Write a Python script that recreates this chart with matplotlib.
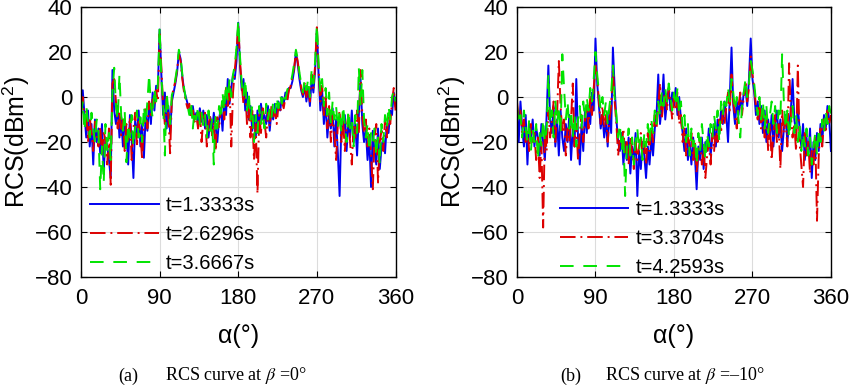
import numpy as np
import matplotlib.pyplot as plt

# sampled aspect angle (deg), 2 degree step
alpha = np.arange(0, 361, 2)

labels_a = ['t=1.3333s', 't=2.6296s', 't=3.6667s']
labels_b = ['t=1.3333s', 't=3.3704s', 't=4.2593s']

# (a) beta = 0 deg (dBm^2)
rcs_a_1 = [-2, 3, -8, -18, -6, -22, -12, -30, -10, -20,
           -14, -25, -12, -33, -18, -22, -28, -36, 12, -6,
           -12, -4, -18, -9, -22, -11, -16, -30, -8, -19,
           -36, -10, -18, -6, -22, -12, -27, -8, -15, -3,
           -12, 2, -6, 5, 4, 30, 10, -8, 2, -14,
           -4, -16, -2, 2, 6, 11, 20, 17, 9, 3,
           0, -3, -5, -8, -4, -10, -7, -12, -5, -11,
           -6, -14, -8, -18, -9, -16, -7, -13, -20, -10,
           -5, -15, 0, -8, 8, -3, 4, 10, 8, 16,
           33, 14, 3, 8, -6, 2, -10, -4, -15, -8,
           -18, -6, -14, -3, -10, -8, -12, -4, -15, -6,
           -10, -3, -8, -2, -6, 0, -3, 2, -1, 4,
           4, 7, 12, 20, 15, 8, 3, 0, 5, -2,
           4, -4, 8, 2, 12, 30, 10, -6, 3, -12,
           -2, -18, -8, -14, -5, -22, -10, -25, -44, -12,
           -16, -8, -24, -10, -18, -6, -20, -12, -26, -8,
           8, -12, -20, -14, -28, -18, -40, -15, -24, -30,
           -14, -32, -22, -18, -25, -12, -16, -6, -8, 2,
           -4]
rcs_a_2 = [-4, 0, -12, -6, -20, -9, -16, -24, -11, -18,
           -22, -13, -26, -15, -20, -30, -14, -39, 6, 8,
           -2, -14, -6, -17, -10, -24, -12, -19, -9, -28,
           -14, -7, -21, -11, -16, -28, -10, -5, -14, -2,
           -8, -1, -4, 3, -2, 28, 13, -4, -12, 0,
           -8, -25, 0, 4, 7, 12, 19, 16, 8, 2,
           -2, -5, -3, -9, -6, -11, -8, -14, -6, -20,
           -10, -7, -22, -12, -8, -17, -11, -24, -9, -14,
           -6, -2, -10, 4, -4, 6, -22, 2, 12, 20,
           32, 16, 5, -3, 4, -12, -5, -18, -6, -28,
           -12, -43, -8, -16, -5, -11, -18, -7, -13, -4,
           -9, -6, -12, -4, -7, -2, -5, 0, -2, 3,
           5, 9, 13, 20, 16, 10, 4, 1, 6, 0,
           5, -2, 10, 4, 14, 31, 12, -2, 5, -8,
           0, -14, -4, -20, -8, -16, -28, -12, -6, -20,
           -10, -24, -14, -8, -20, -30, -12, -18, -6, -16,
           12, -8, -16, -10, -22, -14, -25, -41, -18, -12,
           -38, -20, -15, -24, -10, -18, -8, -12, -2, 4,
           -6]
rcs_a_3 = [-8, -2, -15, -4, -11, -18, -7, -14, -20, -10,
           -16, -41, -22, -38, -12, -24, -16, -28, 2, 13,
           -4, -10, 10, -8, -15, -6, -29, -12, -18, -8,
           -22, -14, -6, -18, -9, -20, -4, -12, -2, 10,
           -4, -9, 4, -2, 6, 31, 8, -2, -26, 2,
           -6, -12, 1, 3, 8, 13, 21, 18, 10, 4,
           -1, -4, -8, -2, -14, -6, -10, -4, -12, -7,
           -13, -8, -18, -6, -15, -10, -30, -8, -14, -4,
           -10, 2, -6, 6, -2, 8, 0, 10, 14, 22,
           34, 18, 6, 0, 8, -6, 2, -10, -4, -20,
           -8, -16, -4, -12, -6, -14, -3, -10, -5, -9,
           -2, -7, 0, -5, 1, -3, 2, -1, 3, 5,
           6, 10, 15, 21, 17, 11, 6, 2, 8, 3,
           8, 0, 12, 6, 16, 32, 14, 2, 8, -4,
           4, -8, 2, -12, -2, -10, -4, -14, -6, -16,
           -4, -12, -20, -6, -14, -10, -22, -8, -16, 13,
           -4, 12, -10, -18, -12, -24, -16, -20, -14, -26,
           -18, -30, -12, -20, -8, -14, -4, -10, 0, 3,
           -2]

# (b) beta = -10 deg
rcs_b_1 = [-6, -20, -2, -14, -22, -8, -30, -12, -18, -10,
           -22, -14, -18, -26, -12, -20, -28, -8, 14, -10,
           -16, -4, -22, -10, -26, -6, -18, -24, -12, -20,
           -8, -28, -14, -22, 8, -18, -30, -12, -24, -6,
           -16, -4, -12, 2, -6, 26, 6, -4, -14, -8,
           -18, -10, -22, -6, -16, 22, 4, -10, -20, -24,
           -16, -30, -20, -28, -18, -34, -22, -28, -16, -44,
           -24, -32, -20, -26, -36, -22, -30, -18, -26, -14,
           -8, 10, -12, -4, 10, -10, -2, 4, -6, 2,
           -4, 4, -8, 0, -10, -16, -24, -14, -28, -20,
           -30, -18, -26, -41, -22, -28, -18, -32, -20, -24,
           -14, -26, -18, -12, -22, -10, -16, -6, -12, -2,
           -8, -20, 0, 22, -4, -12, -2, -8, 0, -6,
           2, 4, -4, 8, 26, 8, 2, -8, -2, -12,
           -4, -16, -6, -20, -10, -18, -8, -22, -12, -6,
           -18, -10, -24, -14, -8, -20, -12, -6, 8, -10,
           -16, -4, -14, -22, -12, -28, -18, -26, -14, -36,
           -20, -28, -16, -24, -12, -20, -8, -14, -4, -10,
           -24]
rcs_b_2 = [-2, -10, -6, -16, -10, -20, -14, -24, -12, -20,
           -16, -28, -18, -36, -20, -58, -14, -24, -6, -18,
           -10, -2, -20, -8, 16, -4, -16, -10, -26, -14,
           -20, -10, 6, -22, -12, -28, -16, -8, -20, -10,
           -4, -14, 0, -8, 4, 14, 8, -2, -12, -4,
           -14, -8, -20, -10, -4, 12, -2, -12, -26, -18,
           -22, -14, -26, -20, -30, -18, -24, -32, -20, -28,
           -22, -16, -26, -20, -30, -16, -24, -12, -20, -8,
           -14, -4, 6, -10, -2, 2, -6, 4, -2, -10,
           0, -6, 2, -12, -8, -20, -14, -26, -18, -22,
           -16, -28, -20, -34, -24, -18, -30, -22, -36, -26,
           -20, -30, -16, -24, -14, -20, -10, -16, -6, -12,
           -4, 2, -6, 10, -2, -8, -14, -4, 2, -8,
           0, 6, -2, 4, 18, 10, 4, -4, -10, -2,
           -14, -6, -18, -8, -24, -12, -28, -16, -8, -20,
           -12, -32, -6, -16, -10, -22, 15, -8, -18, -12,
           -24, 14, -20, -30, -40, -16, -26, -20, -34, -24,
           -30, -18, -55, -26, -14, -22, -10, -16, -6, -12,
           -8]
rcs_b_3 = [-4, -12, -8, -18, -6, -14, -20, -10, -24, -14,
           -20, -12, -28, -16, -22, -10, -20, -14, 10, -12,
           -6, -18, -2, -12, -4, -16, 19, 4, -10, -2,
           -14, -6, -18, -8, -22, -10, -4, -14, -2, -10,
           0, -6, 4, -2, 8, 20, 10, 2, -6, 0,
           -8, -2, -12, -4, 2, 14, 0, -8, -18, -12,
           -24, -16, -44, -22, -14, -26, -18, -30, -20, -14,
           -24, -18, -28, -16, -22, -12, -20, -10, -16, -6,
           -12, -2, -8, 2, -4, 4, -2, 6, 0, -6,
           2, -4, 4, -8, -2, -14, -8, -20, -12, -26,
           -14, -22, -18, -30, -16, -24, -12, -20, -28, -16,
           -22, -12, -18, -8, -14, -6, -20, -2, -8, 0,
           -4, 4, -2, 8, 2, -6, 0, -10, -18, -4,
           2, 8, 0, 6, 16, 12, 6, -2, -8, 0,
           -10, -2, -14, -4, -16, -8, -2, -12, -4, -16,
           -6, -10, 19, -2, -14, -6, -18, -10, -4, -16,
           -8, -20, -12, -24, -16, -22, -14, -26, -18, -30,
           -22, -16, -26, -14, -20, -10, -16, -6, -12, -4,
           -8]

plt.rcParams['font.family'] = ['Liberation Sans', 'DejaVu Sans']

fig = plt.figure(figsize=(8.5, 3.87), dpi=100)
ax_a = fig.add_axes([0.0953, 0.2842, 0.370, 0.6977])
ax_b = fig.add_axes([0.6082, 0.2842, 0.3694, 0.6977])

styles = [dict(color='#0000f0', linestyle='-'),
          dict(color='#dd0000', dashes=(8, 2.5, 1, 2.5)),
          dict(color='#00e400', dashes=(7, 5))]


def draw(ax, series, labels, anchor):
    for y, lab, st in zip(series, labels, styles):
        ax.plot(alpha, y, lw=1.4, label=lab, **st)
    ax.set_xlim(0, 360)
    ax.set_ylim(-80, 40)
    ax.set_xticks([0, 90, 180, 270, 360])
    ax.set_yticks(range(-80, 41, 20))
    ax.grid(True, color='#dcdcdc', lw=0.8)
    ax.set_axisbelow(True)
    ax.tick_params(direction='in', top=True, right=True, labelsize=16,
                   length=4, width=0.8)
    ax.tick_params(axis='x', pad=8)
    ax.tick_params(axis='y', pad=6)
    for s in ax.spines.values():
        s.set_linewidth(1.0)
    ax.set_xlabel('α(°)', fontsize=18)
    ax.set_ylabel(r'RCS(dBm$^\mathregular{2}$)', fontsize=18)
    ax.xaxis.set_label_coords(0.5, -0.175)
    ax.yaxis.set_label_coords(-0.157, 0.5)
    ax.legend(loc='upper left', bbox_to_anchor=anchor, frameon=False,
              fontsize=14.5, handlelength=3.4, handletextpad=0.35,
              labelspacing=0.5, borderpad=0, borderaxespad=0)


draw(ax_a, [rcs_a_1, rcs_a_2, rcs_a_3], labels_a, (0.029, 0.30))
draw(ax_b, [rcs_b_1, rcs_b_2, rcs_b_3], labels_b, (0.137, 0.285))

cap_y = 1 - 376 / 387
serif = ['Liberation Serif', 'DejaVu Serif']
fig.text(118 / 850, cap_y, '(a)', family=serif, fontsize=13, va='center')
fig.text(165 / 850, cap_y, r'RCS curve at $\beta$ =0°', family=serif,
         fontsize=13, va='center', math_fontfamily='stix')
fig.text(560 / 850, cap_y, '(b)', family=serif, fontsize=13, va='center')
fig.text(605 / 850, cap_y, r'RCS curve at $\beta$ =–10°', family=serif,
         fontsize=13, va='center', math_fontfamily='stix')

fig.savefig('out.png', dpi=100)
